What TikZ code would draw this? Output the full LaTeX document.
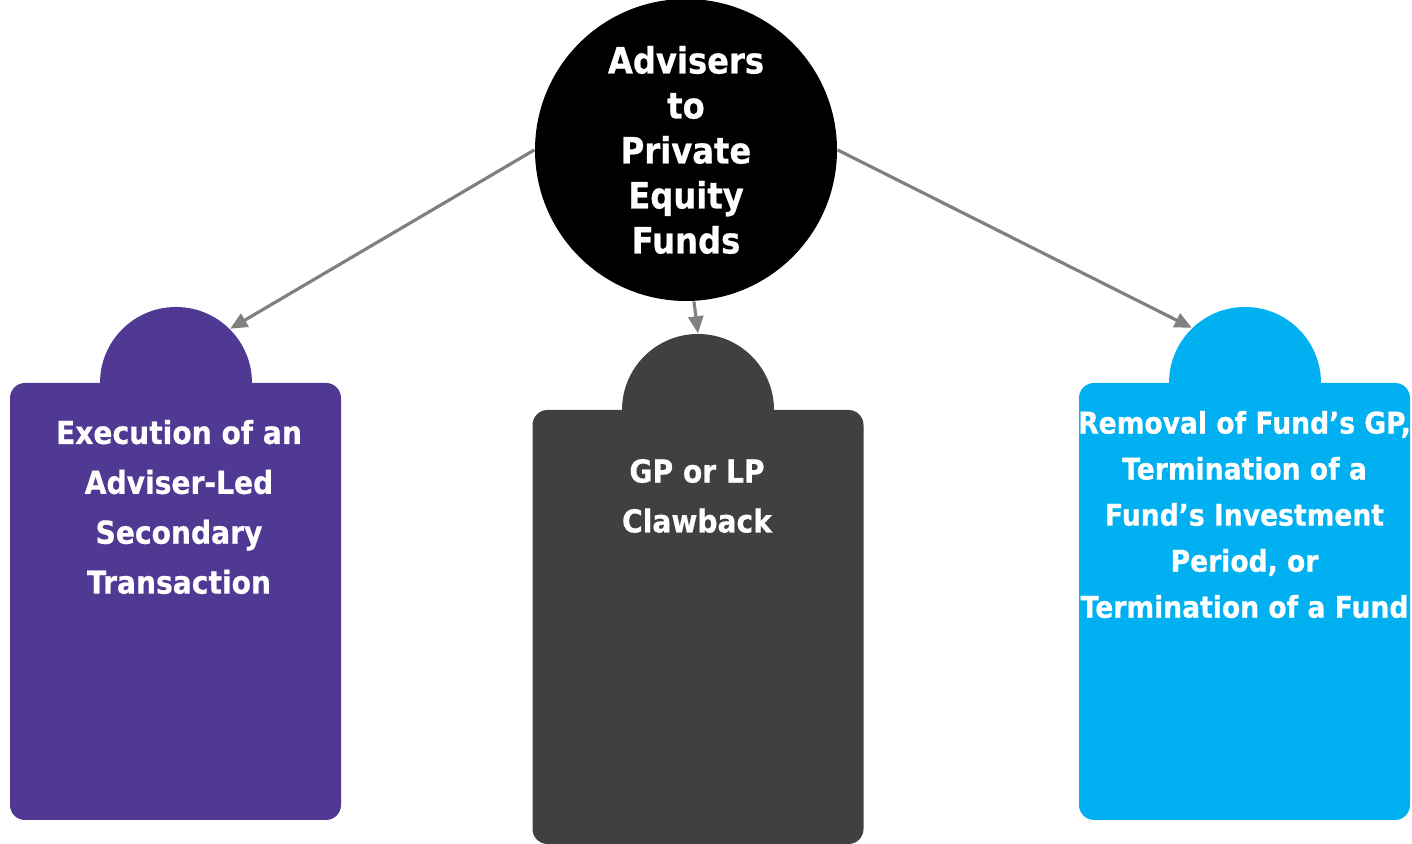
\documentclass[tikz,border=0pt]{standalone}
\usepackage{fontspec}
\usepackage{xcolor}
\usepackage{tikz}
\usetikzlibrary{arrows.meta,positioning}
\newfontfamily\boxfont[FakeStretch=0.89,FakeBold=0.6]{DejaVu Sans Bold}
\definecolor{advpurple}{RGB}{79,57,147}
\definecolor{advgray}{RGB}{64,64,64}
\definecolor{advcyan}{RGB}{0,176,240}
\definecolor{arrowgray}{RGB}{128,128,128}

\begin{document}
\begin{tikzpicture}[
  hubnode/.style={circle, fill=black, minimum size=3.02cm, inner sep=0pt},
  panel/.style={rectangle, rounded corners=0.15cm, minimum width=3.31cm, inner sep=0pt},
  tab/.style={circle, minimum size=1.52cm, inner sep=0pt},
  panetext/.style={text=white, align=center, inner sep=0pt},
  conn/.style={draw=arrowgray, line width=0.9pt, -{Triangle[length=1.7mm,width=1.5mm]}}
]
\useasboundingbox (0,0) rectangle (14.12,8.44);

% tabs on top of the panels
\node[tab, fill=advpurple] (tabL) at (1.76,4.61) {};
\node[tab, fill=advgray] (tabM) at (6.98,4.34) {};
\node[tab, fill=advcyan] (tabR) at (12.45,4.61) {};

% panels
\node[panel, fill=advpurple, minimum height=4.37cm] (boxL) at (1.755,2.425) {};
\node[panel, fill=advgray, minimum height=4.34cm] (boxM) at (6.98,2.17) {};
\node[panel, fill=advcyan, minimum height=4.37cm] (boxR) at (12.445,2.425) {};

\node[panetext, font=\boxfont\fontsize{9}{14.2}\selectfont] (txtL) at (1.79,3.37)
  {Execution of an\\Adviser-Led\\Secondary\\Transaction};
\node[panetext, font=\boxfont\fontsize{9}{14.2}\selectfont] (txtM) at (6.97,3.48)
  {GP or LP\\Clawback};
\node[panetext, font=\boxfont\fontsize{8.5}{13.1}\selectfont] (txtR) at (12.445,3.295)
  {Removal of Fund’s GP,\\Termination of a\\Fund’s Investment\\Period, or\\Termination of a Fund};

% centre circle
\node[hubnode, text=white, align=center, font=\boxfont\fontsize{10.3}{12.8}\selectfont] (hub) at (6.86,6.94)
  {Advisers\\to\\Private\\Equity\\Funds};

\draw[conn] (hub.west) -- (tabL.45);
\draw[conn] (hub.-87) -- (tabM.north);
\draw[conn] (hub.east) -- (tabR.134);

\end{tikzpicture}
\end{document}
